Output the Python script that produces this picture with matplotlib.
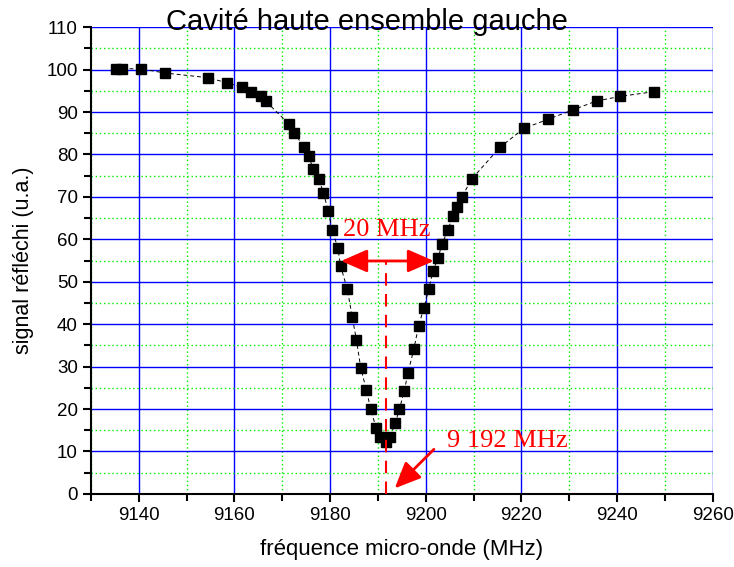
import matplotlib.pyplot as plt
from matplotlib.ticker import MultipleLocator

# donnees
freq = [9135.2, 9136.5, 9140.4, 9145.5, 9154.5, 9158.4, 9161.5, 9163.5, 9165.5, 9166.5,
        9171.3, 9172.5, 9174.5, 9175.5, 9176.5, 9177.6, 9178.6, 9179.6, 9180.4, 9181.6,
        9182.2, 9183.6, 9184.6, 9185.5, 9186.4, 9187.6, 9188.5, 9189.6, 9190.5, 9191.6,
        9192.6, 9193.6, 9194.5, 9195.5, 9196.3, 9197.5, 9198.5, 9199.6, 9200.6, 9201.5,
        9202.6, 9203.4, 9204.7, 9205.6, 9206.6, 9207.5, 9209.6, 9215.6, 9220.6, 9225.6,
        9230.7, 9235.7, 9240.7, 9247.7]
signal = [100.2, 100.2, 100.2, 99.2, 98.1, 96.9, 95.9, 94.8, 93.7, 92.6,
          87.3, 85.1, 81.8, 79.6, 76.5, 74.2, 71.0, 66.7, 62.3, 58.0,
          53.7, 48.2, 41.8, 36.3, 29.7, 24.4, 19.9, 15.6, 13.5, 12.3,
          13.5, 16.6, 20.0, 24.3, 28.6, 34.1, 39.6, 43.8, 48.2, 52.5,
          55.7, 59.0, 62.3, 65.5, 67.6, 69.9, 74.2, 81.8, 86.2, 88.3,
          90.5, 92.6, 93.7, 94.8]

f_centre = 9191.6
largeur = [9182.3, 9201.7]
niveau = 54.9

plt.rcParams['font.family'] = ['Liberation Sans', 'DejaVu Sans']
fig = plt.figure(figsize=(7.34, 5.67), dpi=100)
ax = fig.add_axes([0.124, 0.129, 0.847, 0.823])

ax.plot(freq, signal, color='black', lw=0.7, ls=(0, (4, 3)), zorder=3)
ax.plot(freq, signal, 's', color='black', ms=7, zorder=4)

ax.set_xlim(9130, 9260)
ax.set_ylim(0, 110)
ax.xaxis.set_major_locator(MultipleLocator(20))
ax.xaxis.set_minor_locator(MultipleLocator(10))
ax.yaxis.set_major_locator(MultipleLocator(10))
ax.yaxis.set_minor_locator(MultipleLocator(5))

ax.grid(which='major', color='#0000ff', lw=1, ls='-')
ax.grid(which='minor', color='#00ee00', lw=1, ls=(0, (1, 2)))
ax.set_axisbelow(True)
for ln in [ax.xaxis.get_gridlines()[-1], ax.yaxis.get_gridlines()[-1]]:
    ln.set_visible(False)

for s in ['top', 'right']:
    ax.spines[s].set_visible(False)
for s in ['left', 'bottom']:
    ax.spines[s].set_linewidth(1.5)
ax.tick_params(which='both', direction='out', width=1.5, labelsize=13.5)
ax.tick_params(which='major', length=6)
ax.tick_params(which='minor', length=5)

ax.set_xlabel('fréquence micro-onde (MHz)', fontsize=16, labelpad=11)
ax.set_ylabel('signal réfléchi (u.a.)', fontsize=15.5, labelpad=9)
fig.text(0.5, 0.962, 'Cavité haute ensemble gauche', fontsize=21, ha='center', va='center')

# annotations en rouge
ax.plot([f_centre, f_centre], [0, niveau], color='red', ls=(0, (6, 4)), lw=1.5, zorder=5)
ax.annotate('', xy=(largeur[0], niveau), xytext=(largeur[1], niveau),
            arrowprops=dict(arrowstyle='<|-|>,head_length=16,head_width=7', color='red',
                            lw=2, mutation_scale=1, shrinkA=0, shrinkB=0), zorder=6)
ax.text(9191.8, 62.2, '20 MHz', color='red', fontsize=19,
        family='Liberation Serif', ha='center', va='center')
ax.annotate('', xy=(9193.5, 1.3), xytext=(9201.7, 10.5),
            arrowprops=dict(arrowstyle='-|>,head_length=16,head_width=7', color='red',
                            lw=2, mutation_scale=1, shrinkA=0, shrinkB=0), zorder=6)
ax.text(9204.4, 12.4, '9 192 MHz', color='red', fontsize=19,
        family='Liberation Serif', ha='left', va='center')

fig.savefig('out.png', dpi=100)
